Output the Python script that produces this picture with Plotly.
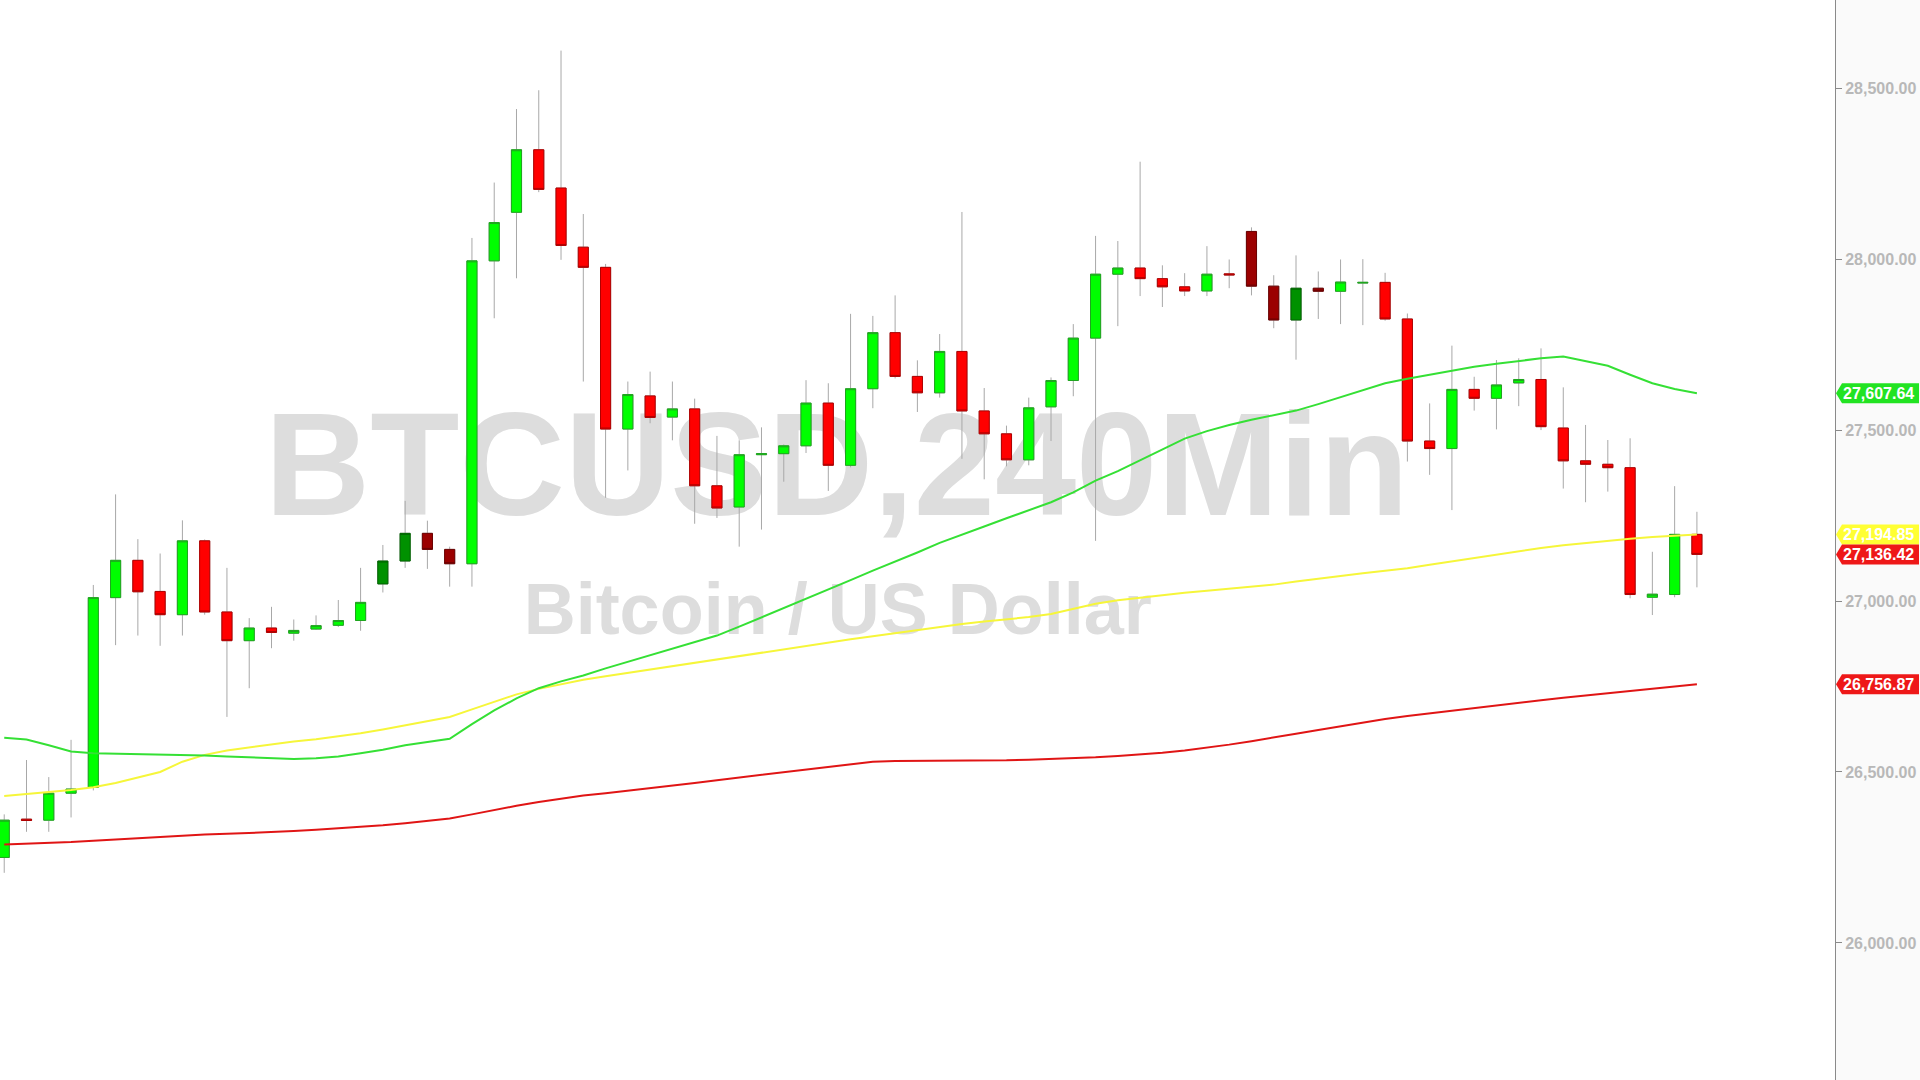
import plotly.graph_objects as go

# ---------------- data ----------------
opens = [26250, 26362, 26359, 26438, 26455, 27010, 27119, 27028, 26960, 27176,
         26968, 26884, 26921, 26906, 26918, 26929, 26943, 27050, 27117, 27198,
         27151, 27109, 27995, 28137, 28320, 28208, 28035, 27976, 27503, 27600,
         27538, 27562, 27337, 27275, 27428, 27431, 27454, 27579, 27397, 27621,
         27785, 27657, 27609, 27730, 27556, 27489, 27413, 27568, 27645, 27769,
         27956, 27974, 27943, 27919, 27907, 27957, 28081, 27921, 27822, 27915,
         27906, 27930, 27932, 27825, 27468, 27446, 27619, 27593, 27638, 27648,
         27506, 27410, 27400, 27390, 27011, 27019, 27195]
highs = [26376, 26535, 26485, 26594, 27047, 27312, 27181, 27139, 27236, 27180,
         27097, 26950, 26983, 26946, 26958, 27003, 27097, 27164, 27293, 27235,
         27159, 28062, 28224, 28439, 28494, 28610, 28132, 27986, 27642, 27671,
         27642, 27592, 27483, 27470, 27508, 27458, 27646, 27637, 27840, 27834,
         27894, 27704, 27781, 28138, 27623, 27513, 27595, 27654, 27810, 28068,
         28053, 28285, 27982, 27959, 28038, 27999, 28093, 27953, 28011, 27964,
         27999, 28000, 27960, 27841, 27578, 27747, 27656, 27705, 27710, 27739,
         27625, 27515, 27471, 27476, 27144, 27336, 27261]
lows = [26205, 26325, 26325, 26367, 26446, 26871, 26899, 26869, 26899, 26960,
        26661, 26745, 26862, 26884, 26916, 26924, 26913, 27025, 27097, 27094,
        27042, 27042, 27827, 27944, 28196, 27998, 27642, 27302, 27382, 27520,
        27470, 27226, 27243, 27159, 27209, 27349, 27433, 27322, 27391, 27564,
        27651, 27553, 27595, 27416, 27356, 27394, 27397, 27468, 27599, 27176,
        27804, 27892, 27860, 27892, 27892, 27915, 27894, 27798, 27706, 27825,
        27810, 27807, 27820, 27408, 27369, 27266, 27557, 27502, 27570, 27500,
        27329, 27289, 27320, 27008, 26959, 27011, 27040]
closes = [26359, 26358, 26438, 26450, 27010, 27119, 27027, 26960, 27176, 26968,
          26884, 26921, 26908, 26914, 26928, 26943, 26996, 27117, 27198, 27151,
          27109, 27995, 28107, 28320, 28204, 28040, 27976, 27503, 27604, 27537,
          27562, 27337, 27272, 27428, 27431, 27454, 27579, 27397, 27621, 27785,
          27657, 27609, 27730, 27556, 27489, 27413, 27565, 27645, 27769, 27956,
          27974, 27943, 27919, 27907, 27956, 27954, 27921, 27822, 27915, 27906,
          27933, 27932, 27825, 27468, 27446, 27619, 27593, 27632, 27648, 27510,
          27410, 27400, 27390, 27019, 27020, 27195, 27136.42]
dark_candles = [17, 18, 19, 20, 56, 57, 58, 59]

ma_green = [26600, 26595, 26578, 26560, 26555, 26554, 26553, 26551, 26550, 26548,
            26545, 26542, 26540, 26538, 26540, 26545, 26555, 26565, 26578, 26588,
            26597, 26640, 26680, 26715, 26745, 26765, 26782, 26803, 26822, 26843,
            26862, 26880, 26899, 26925, 26952, 26978, 27005, 27033, 27061, 27089,
            27115, 27142, 27170, 27193, 27218, 27242, 27265, 27289, 27318, 27352,
            27380, 27412, 27444, 27475, 27497, 27515, 27530, 27543, 27557, 27576,
            27597, 27617, 27637, 27650, 27662, 27674, 27685, 27694, 27702, 27710,
            27715, 27701, 27688, 27662, 27637, 27620, 27607.64]
ma_yellow = [26430, 26435, 26440, 26447, 26455, 26468, 26484, 26500, 26530, 26550,
             26563, 26572, 26580, 26589, 26596, 26604, 26613, 26624, 26636, 26648,
             26661, 26683, 26706, 26727, 26743, 26757, 26770, 26780, 26790, 26800,
             26810, 26820, 26829, 26839, 26849, 26859, 26868, 26878, 26888, 26897,
             26906, 26916, 26925, 26933, 26940, 26946, 26953, 26962, 26978, 26992,
             27002, 27010, 27017, 27024, 27030, 27036, 27042, 27048, 27057, 27064,
             27073, 27081, 27088, 27096, 27106, 27116, 27126, 27136, 27146, 27155,
             27163, 27170, 27176, 27182, 27187, 27191, 27194.85]
ma_red = [26288, 26290, 26292, 26295, 26299, 26303, 26307, 26311, 26314, 26317,
          26319, 26321, 26324, 26327, 26331, 26335, 26339, 26344, 26350, 26357,
          26364, 26376, 26389, 26401, 26412, 26422, 26431, 26438, 26445, 26452,
          26460, 26468, 26476, 26484, 26492, 26500, 26508, 26516, 26523, 26530,
          26532, 26532, 26532, 26532, 26533, 26534, 26536, 26538, 26540, 26543,
          26547, 26551, 26556, 26563, 26571, 26580, 26590, 26600, 26612, 26623,
          26634, 26645, 26655, 26664, 26672, 26680, 26688, 26696, 26703, 26710,
          26717, 26724, 26730, 26737, 26744, 26750, 26756.87]

y_ticks = [26000, 26500, 27000, 27500, 28000, 28500]
watermark_title = "BTCUSD,240Min"
watermark_sub = "Bitcoin / US Dollar"

# ---------------- styling ----------------
FONT = "Arial, Liberation Sans, sans-serif"
C_UP, C_UP_EDGE = "#00ff00", "#1fa51f"
C_DN, C_DN_EDGE = "#ff0000", "#b00000"
C_UP_DARK, C_UP_DARK_EDGE = "#009100", "#006400"
C_DN_DARK, C_DN_DARK_EDGE = "#9b0000", "#6a0000"
WICK = "#a8a8a8"

n = len(opens)
idx = list(range(n))
body_lo = [min(o, c) for o, c in zip(opens, closes)]
body_hi = [max(o, c) for o, c in zip(opens, closes)]
bright = [i for i in idx if i not in dark_candles]


def pick(arr, sel):
    return [arr[i] for i in sel]


fig = go.Figure()

# watermark on the base subplot (drawn beneath the overlaid price subplot)
fig.add_trace(go.Scatter(
    x=[0.456, 0.4565], y=[0.557, 0.430], mode="text",
    text=[watermark_title, watermark_sub],
    textposition="middle center",
    textfont=dict(family=FONT, size=[146, 72], color="#dddddd", weight="bold"),
    hoverinfo="skip", xaxis="x", yaxis="y", showlegend=False,
))

# wicks (grey)
fig.add_trace(go.Candlestick(
    x=idx, open=opens, high=highs, low=lows, close=closes,
    increasing=dict(line=dict(color=WICK, width=1), fillcolor=WICK),
    decreasing=dict(line=dict(color=WICK, width=1), fillcolor=WICK),
    xaxis="x2", yaxis="y2", hoverinfo="skip", showlegend=False,
))
# bright bodies
fig.add_trace(go.Candlestick(
    x=bright, open=pick(opens, bright), close=pick(closes, bright),
    high=pick(body_hi, bright), low=pick(body_lo, bright),
    increasing=dict(line=dict(color=C_UP_EDGE, width=1), fillcolor=C_UP),
    decreasing=dict(line=dict(color=C_DN_EDGE, width=1), fillcolor=C_DN),
    xaxis="x2", yaxis="y2", hoverinfo="skip", showlegend=False,
))
# dark bodies
fig.add_trace(go.Candlestick(
    x=dark_candles, open=pick(opens, dark_candles), close=pick(closes, dark_candles),
    high=pick(body_hi, dark_candles), low=pick(body_lo, dark_candles),
    increasing=dict(line=dict(color=C_UP_DARK_EDGE, width=1), fillcolor=C_UP_DARK),
    decreasing=dict(line=dict(color=C_DN_DARK_EDGE, width=1), fillcolor=C_DN_DARK),
    xaxis="x2", yaxis="y2", hoverinfo="skip", showlegend=False,
))

# moving averages
for vals, col in [(ma_red, "#e01515"), (ma_yellow, "#f6f63a"), (ma_green, "#35e035")]:
    fig.add_trace(go.Scatter(
        x=idx, y=vals, mode="lines", line=dict(color=col, width=2),
        xaxis="x2", yaxis="y2", hoverinfo="skip", showlegend=False,
    ))

# price labels on the right axis
labels = [
    (ma_green[-1], "#22e322"),
    (ma_yellow[-1], "#ffff33"),
    (closes[-1], "#ee1818"),
    (ma_red[-1], "#ee1818"),
]
shapes, annotations = [], []
for val, col in labels:
    shapes.append(dict(
        type="path", xref="paper", xsizemode="pixel", xanchor=1,
        yref="y2", ysizemode="pixel", yanchor=val,
        path="M 1 0 L 7 10 L 84 10 L 84 -10 L 7 -10 Z",
        fillcolor=col, line=dict(width=0), layer="above",
    ))
    annotations.append(dict(
        x=1, xref="paper", xanchor="left", xshift=6,
        y=val, yref="y2", yanchor="middle",
        text=f"{val:,.2f}", showarrow=False,
        font=dict(family=FONT, size=16, color="white", weight="bold"),
    ))

fig.update_layout(
    width=1920, height=1080,
    margin=dict(l=0, r=85, t=0, b=0),
    paper_bgcolor="#fafafa", plot_bgcolor="#ffffff",
    showlegend=False, boxgap=0.35,
    xaxis=dict(range=[0, 1], visible=False, fixedrange=True),
    yaxis=dict(range=[0, 1], visible=False, fixedrange=True),
    xaxis2=dict(overlaying="x", range=[-0.19, 82.2], visible=False,
                rangeslider=dict(visible=False)),
    yaxis2=dict(overlaying="y", side="right", range=[25599, 28758],
                tickvals=y_ticks, tickformat=",.2f",
                showgrid=False, zeroline=False,
                showline=True, linecolor="#8a8a8a", linewidth=1,
                ticks="outside", ticklen=6, tickcolor="#8a8a8a",
                tickfont=dict(family=FONT, size=16, color="#b8b8b8", weight="bold")),
    shapes=shapes, annotations=annotations,
)

fig.write_html(
    "out.html",
    config={"displayModeBar": False},
    post_script="document.body.style.margin='0px';document.body.style.overflow='hidden';",
)
